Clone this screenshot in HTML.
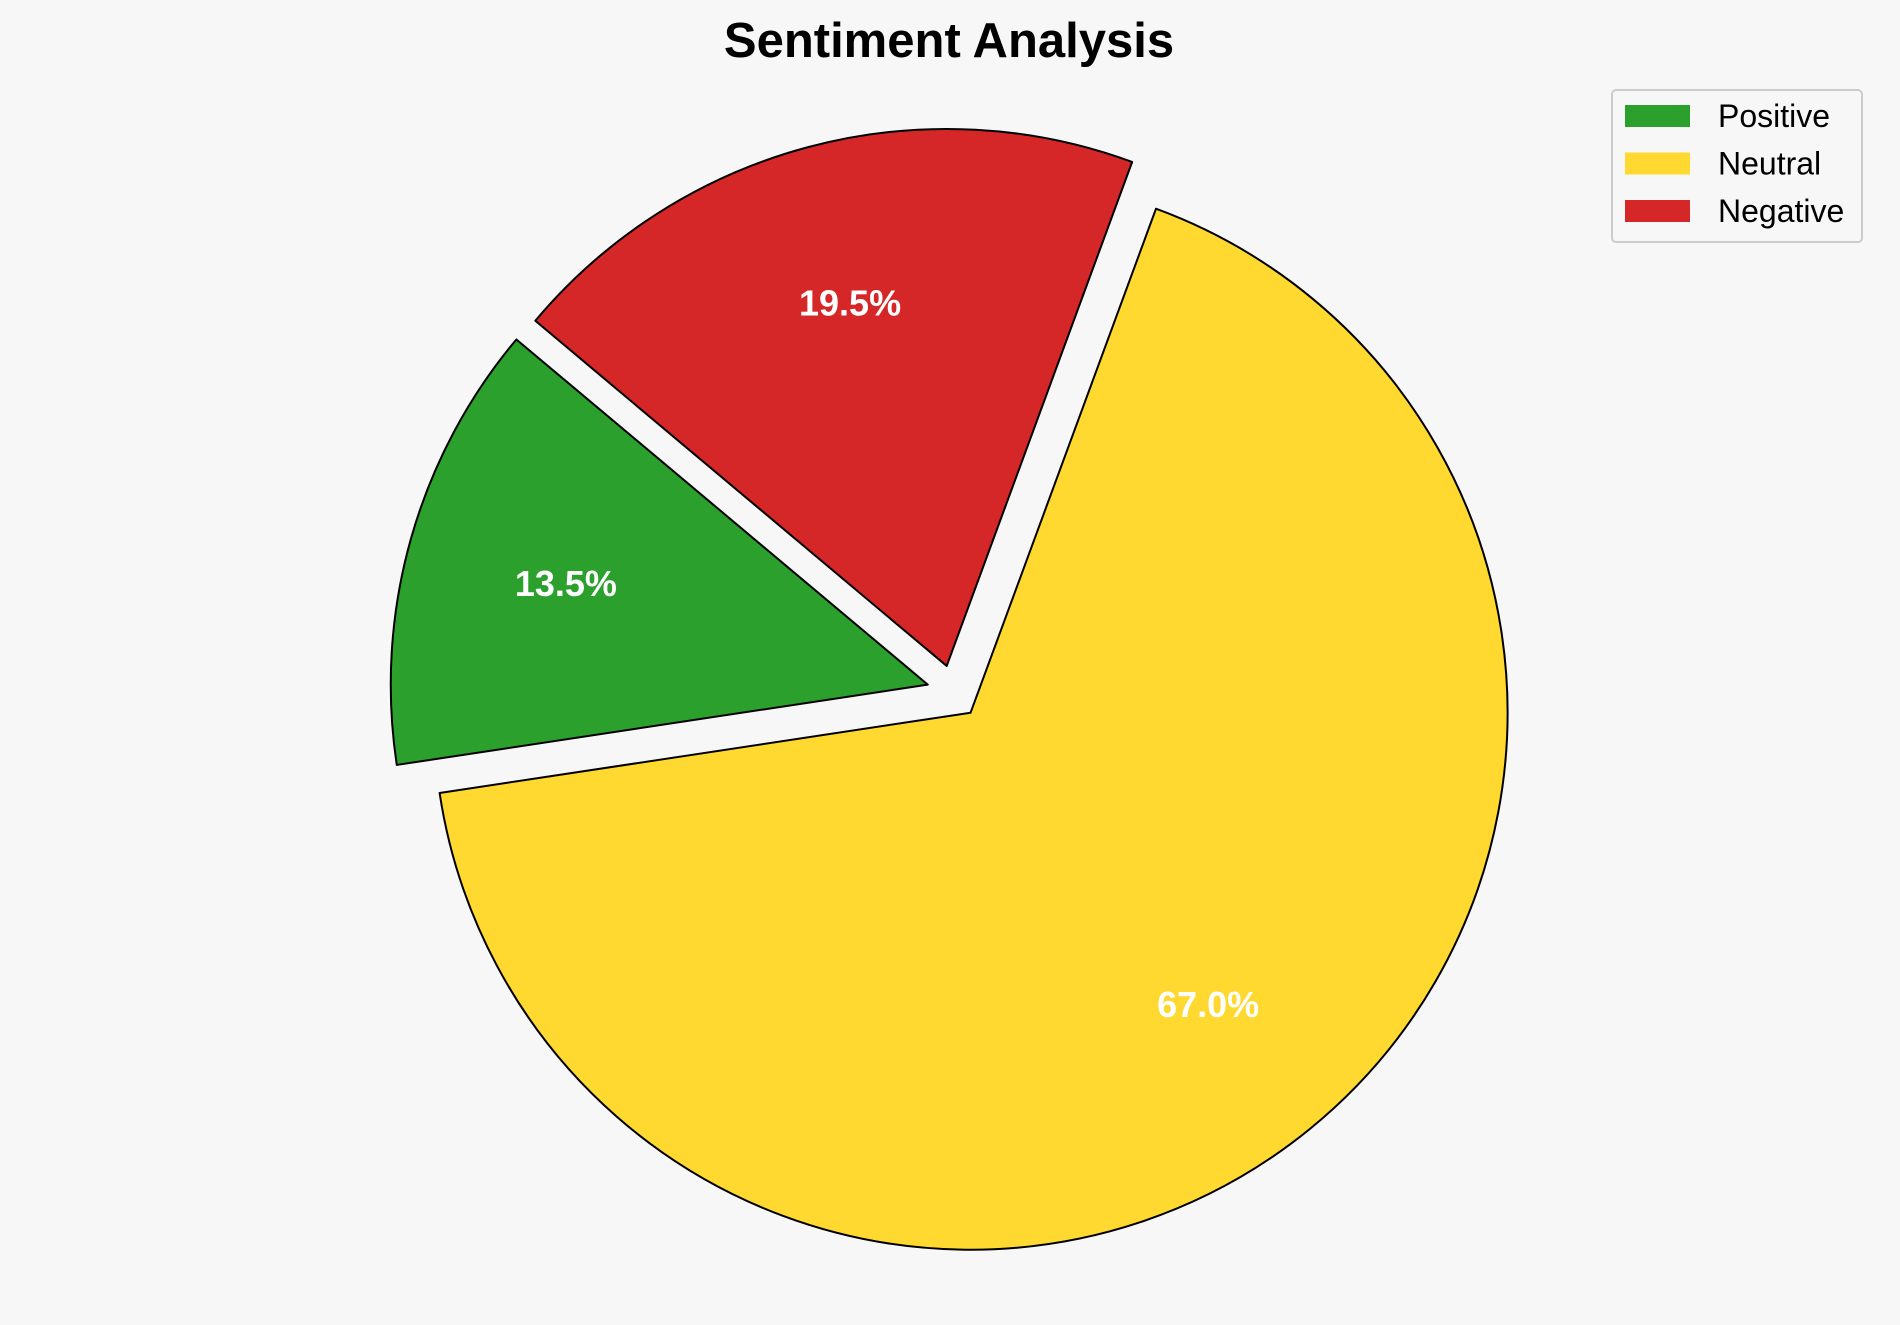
<!DOCTYPE html>
<html><head><meta charset="utf-8"><style>
body{margin:0;background:#f7f7f7;}
svg{display:block;font-family:"Liberation Sans",Arial,sans-serif;}
</style></head><body>
<svg id="chart" width="1900" height="1325" viewBox="0 0 1900 1325">
<rect width="1900" height="1325" fill="#f7f7f7"/>
<text x="949" y="57" text-anchor="middle" font-size="49" font-weight="bold" fill="#000">Sentiment Analysis</text>
<g id="pie"></g>
<g id="legend"></g>
</svg>
<script>
const categories = ["Positive", "Neutral", "Negative"];
const values = [13.5, 67.0, 19.5];
const explodes = [0.05, 0.05, 0.05];
const colors = ["#2ca02c", "#ffd92f", "#d62728"];

const NS = "http://www.w3.org/2000/svg";
const cx = 953.6, cy = 691.9, R = 537, startAngle = 140;
const pie = document.getElementById("pie");
const legend = document.getElementById("legend");
const total = values.reduce((a, b) => a + b, 0);
function pt(a, r, ox, oy) { const t = a * Math.PI / 180; return [ox + r * Math.cos(t), oy - r * Math.sin(t)]; }
let ang = startAngle;
values.forEach((v, i) => {
  const span = v / total * 360;
  const a0 = ang, a1 = ang + span, mid = (a0 + a1) / 2;
  const [ox, oy] = pt(mid, explodes[i] * R, cx, cy);
  const p0 = pt(a0, R, ox, oy), p1 = pt(a1, R, ox, oy);
  const large = span > 180 ? 1 : 0;
  const path = document.createElementNS(NS, "path");
  path.setAttribute("d", `M${ox},${oy} L${p0[0]},${p0[1]} A${R},${R} 0 ${large} 0 ${p1[0]},${p1[1]} Z`);
  path.setAttribute("fill", colors[i]);
  path.setAttribute("stroke", "#000");
  path.setAttribute("stroke-width", "2");
  path.setAttribute("stroke-linejoin", "round");
  
  
  pie.appendChild(path);
  const lp = pt(mid, 0.7 * R, ox, oy);
  const t = document.createElementNS(NS, "text");
  t.setAttribute("x", lp[0]); t.setAttribute("y", lp[1] + 13);
  t.setAttribute("text-anchor", "middle");
  t.setAttribute("font-size", "36"); t.setAttribute("font-weight", "bold");
  t.setAttribute("fill", "#fff");
  t.textContent = v.toFixed(1) + "%";
  
  
  pie.appendChild(t);
  ang = a1;
});
const box = document.createElementNS(NS, "rect");
box.setAttribute("x", 1612); box.setAttribute("y", 90); box.setAttribute("width", 250); box.setAttribute("height", 152);
box.setAttribute("rx", 4); box.setAttribute("fill", "#f7f7f7"); box.setAttribute("stroke", "#ccc"); box.setAttribute("stroke-width", "2");


legend.appendChild(box);
categories.forEach((c, i) => {
  const y = 116 + i * 47.5;
  const r = document.createElementNS(NS, "rect");
  r.setAttribute("x", 1625); r.setAttribute("y", y - 11); r.setAttribute("width", 65); r.setAttribute("height", 22);
  r.setAttribute("fill", colors[i]);
  
  
  legend.appendChild(r);
  const t = document.createElementNS(NS, "text");
  t.setAttribute("x", 1718); t.setAttribute("y", y + 11);
  t.setAttribute("font-size", "32"); t.setAttribute("fill", "#000");
  t.textContent = c;
  
  
  legend.appendChild(t);
});
</script>
</body></html>
